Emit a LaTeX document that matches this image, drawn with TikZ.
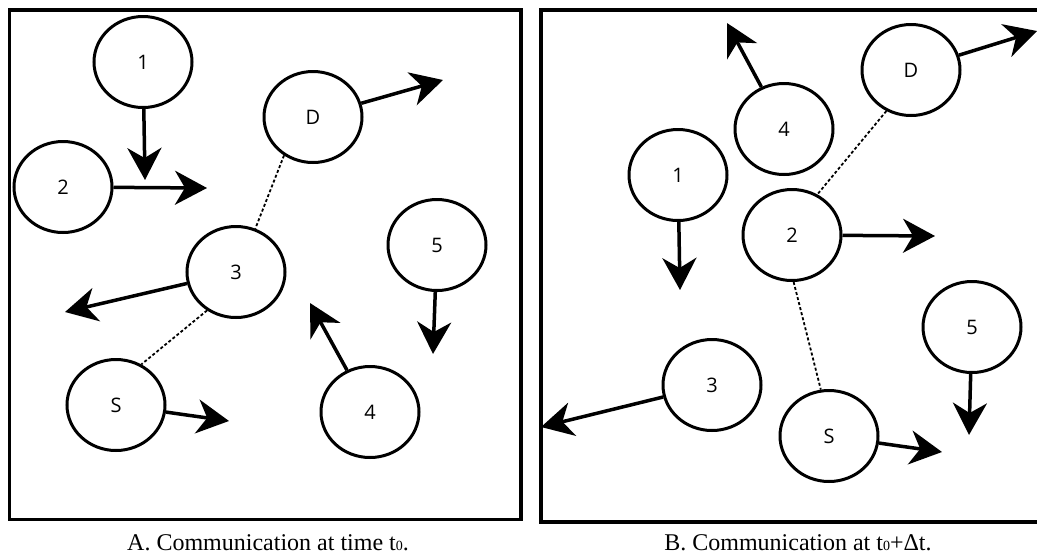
\documentclass[tikz,border=0pt]{standalone}
\usepackage{fontspec}
\setmainfont{Liberation Serif}
\newfontfamily\labfont{Open Sans}
\usetikzlibrary{arrows.meta,shapes.geometric}
\begin{document}
\begin{tikzpicture}[x=1pt,y=-1pt,
  circ/.style={ellipse, draw, line width=3pt, minimum width=98pt, minimum height=91pt, inner sep=0pt, font=\labfont\fontsize{20}{20}\selectfont},
  mv/.style={line width=3.5pt, -{Stealth[length=32pt,width=34pt,inset=10pt]}},
  link/.style={line width=1.8pt, dash pattern=on 3pt off 2.2pt},
  frame/.style={line width=3.5pt},
  captext/.style={anchor=base, inner sep=0pt, font=\fontsize{24}{24}\selectfont}
]
\useasboundingbox (0,0) rectangle (1037,555);
\clip (0,0) rectangle (1037,555);
\fill[white] (0,0) rectangle (1037,555);
\draw[frame] (9.5,10) rectangle (521,519.5);
\draw[frame] (541,10) rectangle (1060,522);

% ---- Panel A ----
\node[circ] (a1) at (143,62) {1};
\node[circ] (a2) at (63,187) {2};
\node[circ] (aD) at (313,117) {D};
\node[circ] (a3) at (236,272) {3};
\node[circ] (a5) at (437,245) {5};
\node[circ] (aS) at (116,405) {S};
\node[circ] (a4) at (370,412) {4};
\coordinate (ta1) at (145,180);
\coordinate (ta2) at (207,188);
\coordinate (taD) at (443,80);
\coordinate (ta3) at (65,312);
\coordinate (ta5) at (433,354);
\coordinate (taS) at (229,421);
\coordinate (ta4) at (310,303);
\draw[mv] (a1) -- (ta1);
\draw[mv] (a2) -- (ta2);
\draw[mv] (aD) -- (taD);
\draw[mv] (a3) -- (ta3);
\draw[mv] (a5) -- (ta5);
\draw[mv] (aS) -- (taS);
\draw[mv] (a4) -- (ta4);
\draw[link] (aD.233) -- (a3.66);
\draw[link] (a3.233) -- (aS.58);

% ---- Panel B ----
\node[circ] (b4) at (784,129) {4};
\node[circ] (bD) at (911,70) {D};
\node[circ] (b1) at (678,175) {1};
\node[circ] (b2) at (792,235) {2};
\node[circ] (b5) at (972,327) {5};
\node[circ] (b3) at (712,385) {3};
\node[circ] (bS) at (829,436) {S};
\coordinate (tb4) at (727,23);
\coordinate (tbD) at (1037,31);
\coordinate (tb1) at (680,290);
\coordinate (tb2) at (935,236);
\coordinate (tb5) at (969,435);
\coordinate (tb3) at (541,427);
\coordinate (tbS) at (942,452);
\draw[mv] (b4) -- (tb4);
\draw[mv] (bD) -- (tbD);
\draw[mv] (b1) -- (tb1);
\draw[mv] (b2) -- (tb2);
\draw[mv] (b5) -- (tb5);
\draw[mv] (b3) -- (tb3);
\draw[mv] (bS) -- (tbS);
\draw[link] (bD.239) -- (b2.58);
\draw[link] (b2.272) -- (bS.100);

% ---- Captions ----
\node[captext] (capA) at (268,550) {A. Communication at time t{\fontsize{14}{14}\selectfont 0}.};
\node[captext] (capB) at (798,550) {B. Communication at t{\fontsize{14}{14}\selectfont 0}+Δt.};
\end{tikzpicture}
\end{document}
